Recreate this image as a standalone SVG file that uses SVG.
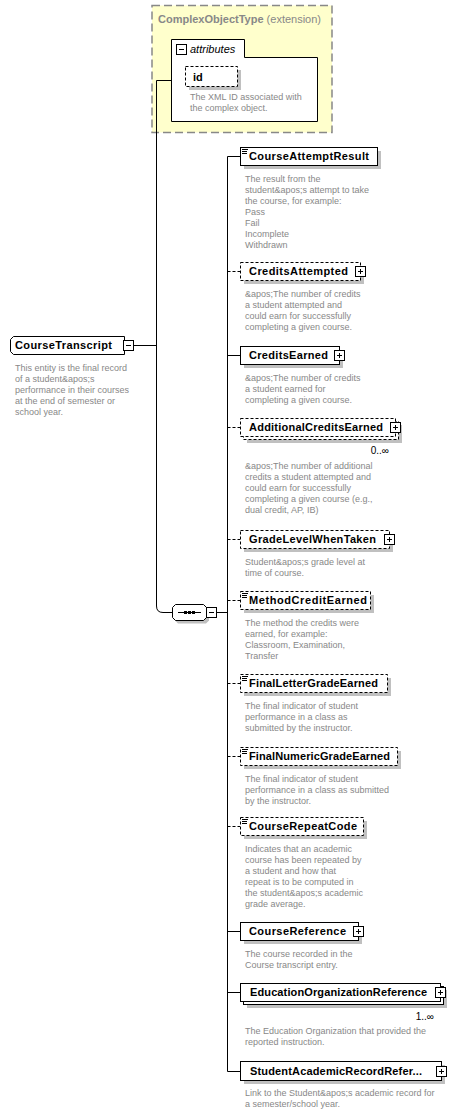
<svg xmlns="http://www.w3.org/2000/svg" width="471" height="1114" viewBox="0 0 471 1114">
<style>
.box{fill:#fff;stroke:#000;stroke-width:1}
.opt{stroke-dasharray:3,2}
.sh{fill:#c0c0c0}
.ln{fill:none;stroke:#000;stroke-width:1}
.dl{stroke-dasharray:3,2}
.name{font-family:"Liberation Sans",Arial,sans-serif;font-weight:bold;font-size:11px;fill:#000}
.desc{font-family:"Liberation Sans",Arial,sans-serif;font-size:9px;fill:#888}
.occ{font-family:"Liberation Sans",Arial,sans-serif;font-size:10px;fill:#000}
</style>
<defs>
<g id="plus"><rect x="0.5" y="0.5" width="10" height="10" fill="#fff" stroke="#000"/><path d="M3,5.5H8M5.5,3V8" stroke="#000"/></g>
<g id="minus"><rect x="0.5" y="0.5" width="10" height="10" fill="#fff" stroke="#000"/><path d="M3,5.5H8" stroke="#000"/></g>
<g id="icon"><path d="M242,0.5H248M242,2.5H247M242,4.5H247" stroke="#000"/></g>
</defs>
<rect width="471" height="1114" fill="#fff"/>

<g id="complexType">
<rect x="152" y="5.5" width="180" height="127" fill="#ffffcc" stroke="#888" stroke-width="1.5" stroke-dasharray="8,4"/>
<text x="158" y="23" font-family="Liberation Sans,Arial,sans-serif" font-size="11" fill="#888"><tspan font-weight="bold">ComplexObjectType</tspan> (extension)</text>
</g>

<g id="attributes">
<path d="M171.5,121.5V39.5H244.5V57.5H317.5V121.5Z" fill="#fff" stroke="#000"/>
<use href="#minus" x="176" y="44"/>
<text x="190" y="53" font-family="Liberation Sans,Arial,sans-serif" font-size="11" font-style="italic" fill="#000">attributes</text>
</g>

<g id="attr-id">
<rect x="189" y="70" width="52" height="20" class="sh"/>
<rect x="185.5" y="66.5" width="52" height="20" class="box opt"/>
<text x="193" y="81" class="name">id</text>
<text class="desc"><tspan x="190" y="100">The XML ID associated with</tspan><tspan x="190" y="111">the complex object.</tspan></text>
</g>

<g id="CourseTranscript">
<path d="M13.5,336.5H124.5V354.5H13.5L10.5,351.5V339.5Z" class="box"/>
<use href="#minus" x="123" y="340"/>
<text x="15" y="349" class="name" textLength="97" lengthAdjust="spacing">CourseTranscript</text>
<text class="desc"><tspan x="15" y="371">This entity is the final record</tspan><tspan x="15" y="382">of a student&amp;apos;s</tspan><tspan x="15" y="393">performance in their courses</tspan><tspan x="15" y="404">at the end of semester or</tspan><tspan x="15" y="415">school year.</tspan></text>
</g>

<g id="sequence">
<path d="M178,607.5H206L209,610.5V620.5L206,623.5H178L175,620.5V610.5Z" class="sh"/>
<path d="M175.5,604.5H203.5L206.5,607.5V617.5L203.5,620.5H175.5L172.5,617.5V607.5Z" class="box"/>
<path d="M178,612.5H201" stroke="#000"/>
<rect x="184" y="611" width="3" height="3" fill="#000"/><rect x="188" y="611" width="3" height="3" fill="#000"/><rect x="192" y="611" width="3" height="3" fill="#000"/>
<use href="#minus" x="206" y="607"/>
</g>

<g id="connectors">
<path class="ln" d="M133,345.5H156.5M171,80.5H156.5V606Q156.5,612.5 163,612.5H172.5"/>
<path class="ln" d="M217,612.5H227.5M227.5,156.5V1071.5"/>
<path class="ln" d="M227.5,156.5H240M227.5,355.5H240M227.5,931.5H240M227.5,992.5H240M227.5,1071.5H240"/>
<path class="ln dl" d="M227.5,271.5H240M227.5,427.5H240M227.5,539.5H240M227.5,600.5H240M227.5,683.5H240M227.5,756.5H240M227.5,826.5H240"/>
</g>

<g id="CourseAttemptResult">
<rect x="244" y="151" width="137" height="18" class="sh"/>
<rect x="240.5" y="147.5" width="137" height="18" class="box"/>
<use href="#icon" y="149"/>
<text x="249" y="160" class="name" textLength="120" lengthAdjust="spacing">CourseAttemptResult</text>
<text class="desc"><tspan x="245" y="182">The result from the</tspan><tspan x="245" y="193">student&amp;apos;s attempt to take</tspan><tspan x="245" y="204">the course, for example:</tspan><tspan x="245" y="215">Pass</tspan><tspan x="245" y="226">Fail</tspan><tspan x="245" y="237">Incomplete</tspan><tspan x="245" y="248">Withdrawn</tspan></text>
</g>

<g id="CreditsAttempted">
<rect x="244" y="266" width="120" height="18" class="sh"/>
<rect x="240.5" y="262.5" width="120" height="18" class="box opt"/>
<use href="#plus" x="355" y="266"/>
<text x="249" y="275" class="name" textLength="99" lengthAdjust="spacing">CreditsAttempted</text>
<text class="desc"><tspan x="245" y="297">&amp;apos;The number of credits</tspan><tspan x="245" y="308">a student attempted and</tspan><tspan x="245" y="319">could earn for successfully</tspan><tspan x="245" y="330">completing a given course.</tspan></text>
</g>

<g id="CreditsEarned">
<rect x="244" y="350" width="99" height="18" class="sh"/>
<rect x="240.5" y="346.5" width="99" height="18" class="box"/>
<use href="#plus" x="334" y="350"/>
<text x="249" y="359" class="name" textLength="79" lengthAdjust="spacing">CreditsEarned</text>
<text class="desc"><tspan x="245" y="381">&amp;apos;The number of credits</tspan><tspan x="245" y="392">a student earned for</tspan><tspan x="245" y="403">completing a given course.</tspan></text>
</g>

<g id="AdditionalCreditsEarned">
<rect x="247" y="425" width="155" height="18" class="sh"/>
<rect x="243.5" y="421.5" width="155" height="18" class="box opt"/>
<rect x="240.5" y="418.5" width="155" height="18" class="box opt"/>
<use href="#plus" x="390" y="422"/>
<text x="249" y="431" class="name" textLength="134" lengthAdjust="spacing">AdditionalCreditsEarned</text>
<text x="389" y="454" class="occ" text-anchor="end">0..∞</text>
<text class="desc"><tspan x="245" y="469">&amp;apos;The number of additional</tspan><tspan x="245" y="480">credits a student attempted and</tspan><tspan x="245" y="491">could earn for successfully</tspan><tspan x="245" y="502">completing a given course (e.g.,</tspan><tspan x="245" y="513">dual credit, AP, IB)</tspan></text>
</g>

<g id="GradeLevelWhenTaken">
<rect x="244" y="534" width="149" height="18" class="sh"/>
<rect x="240.5" y="530.5" width="149" height="18" class="box opt"/>
<use href="#plus" x="384" y="534"/>
<text x="249" y="543" class="name" textLength="127" lengthAdjust="spacing">GradeLevelWhenTaken</text>
<text class="desc"><tspan x="245" y="565">Student&amp;apos;s grade level at</tspan><tspan x="245" y="576">time of course.</tspan></text>
</g>

<g id="MethodCreditEarned">
<rect x="244" y="595" width="130" height="18" class="sh"/>
<rect x="240.5" y="591.5" width="130" height="18" class="box opt"/>
<use href="#icon" y="593"/>
<text x="249" y="604" class="name" textLength="118" lengthAdjust="spacing">MethodCreditEarned</text>
<text class="desc"><tspan x="245" y="626">The method the credits were</tspan><tspan x="245" y="637">earned, for example:</tspan><tspan x="245" y="648">Classroom, Examination,</tspan><tspan x="245" y="659">Transfer</tspan></text>
</g>

<g id="FinalLetterGradeEarned">
<rect x="244" y="678" width="147" height="18" class="sh"/>
<rect x="240.5" y="674.5" width="147" height="18" class="box opt"/>
<use href="#icon" y="676"/>
<text x="249" y="687" class="name" textLength="129" lengthAdjust="spacing">FinalLetterGradeEarned</text>
<text class="desc"><tspan x="245" y="709">The final indicator of student</tspan><tspan x="245" y="720">performance in a class as</tspan><tspan x="245" y="731">submitted by the instructor.</tspan></text>
</g>

<g id="FinalNumericGradeEarned">
<rect x="244" y="751" width="157" height="18" class="sh"/>
<rect x="240.5" y="747.5" width="157" height="18" class="box opt"/>
<use href="#icon" y="749"/>
<text x="249" y="760" class="name" textLength="141" lengthAdjust="spacing">FinalNumericGradeEarned</text>
<text class="desc"><tspan x="245" y="782">The final indicator of student</tspan><tspan x="245" y="793">performance in a class as submitted</tspan><tspan x="245" y="804">by the instructor.</tspan></text>
</g>

<g id="CourseRepeatCode">
<rect x="244" y="821" width="123" height="18" class="sh"/>
<rect x="240.5" y="817.5" width="123" height="18" class="box opt"/>
<use href="#icon" y="819"/>
<text x="249" y="830" class="name" textLength="108" lengthAdjust="spacing">CourseRepeatCode</text>
<text class="desc"><tspan x="245" y="852">Indicates that an academic</tspan><tspan x="245" y="863">course has been repeated by</tspan><tspan x="245" y="874">a student and how that</tspan><tspan x="245" y="885">repeat is to be computed in</tspan><tspan x="245" y="896">the student&amp;apos;s academic</tspan><tspan x="245" y="907">grade average.</tspan></text>
</g>

<g id="CourseReference">
<rect x="244" y="926" width="118" height="18" class="sh"/>
<rect x="240.5" y="922.5" width="118" height="18" class="box"/>
<use href="#plus" x="353" y="926"/>
<text x="249" y="935" class="name" textLength="97" lengthAdjust="spacing">CourseReference</text>
<text class="desc"><tspan x="245" y="957">The course recorded in the</tspan><tspan x="245" y="968">Course transcript entry.</tspan></text>
</g>

<g id="EducationOrganizationReference">
<rect x="247" y="990" width="200" height="18" class="sh"/>
<rect x="243.5" y="986.5" width="200" height="18" class="box"/>
<rect x="240.5" y="983.5" width="200" height="18" class="box"/>
<use href="#plus" x="435" y="987"/>
<text x="250" y="996" class="name" textLength="177" lengthAdjust="spacing">EducationOrganizationReference</text>
<text x="434" y="1020" class="occ" text-anchor="end">1..∞</text>
<text class="desc"><tspan x="245" y="1034">The Education Organization that provided the</tspan><tspan x="245" y="1045">reported instruction.</tspan></text>
</g>

<g id="StudentAcademicRecordReference">
<rect x="244" y="1065" width="201" height="19" class="sh"/>
<rect x="240.5" y="1061.5" width="201" height="19" class="box"/>
<use href="#plus" x="436" y="1066"/>
<text x="250" y="1075" class="name" textLength="172" lengthAdjust="spacing">StudentAcademicRecordRefer...</text>
<text class="desc"><tspan x="245" y="1096">Link to the Student&amp;apos;s academic record for</tspan><tspan x="245" y="1107">a semester/school year.</tspan></text>
</g>
</svg>
